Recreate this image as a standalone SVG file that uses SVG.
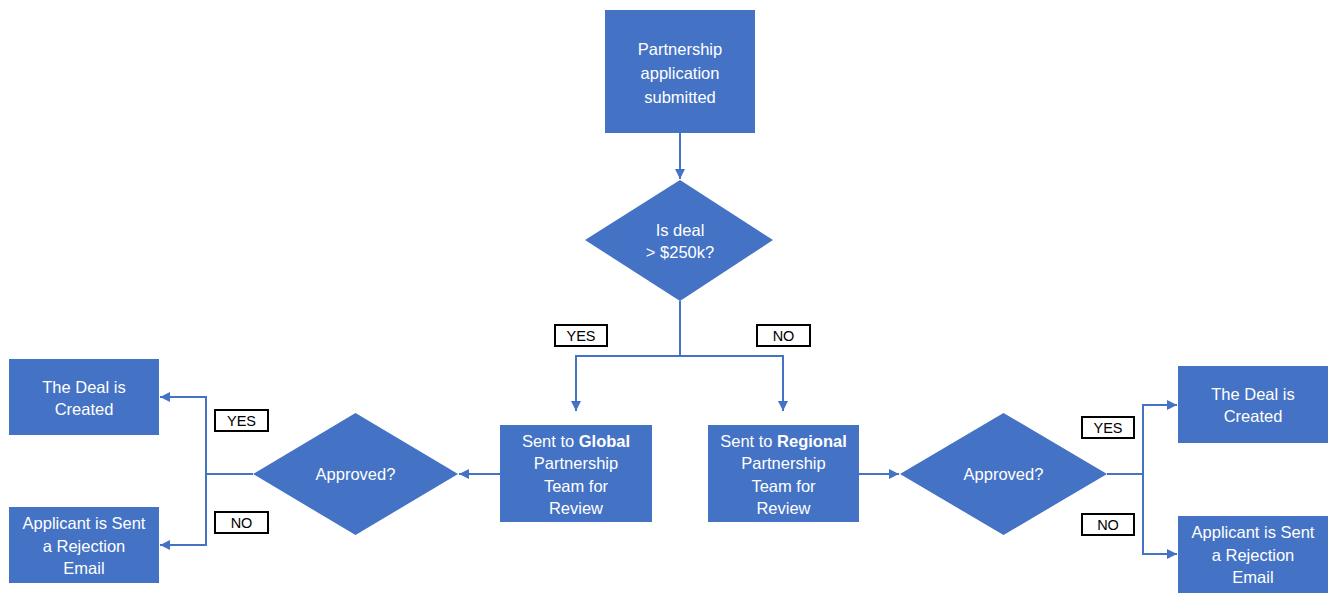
<svg xmlns="http://www.w3.org/2000/svg" width="1335" height="600" viewBox="0 0 1335 600">
<style>
.n{fill:#4472C4}
.t{font-family:"Liberation Sans",Arial,sans-serif;font-size:16.5px;fill:#fff;text-anchor:middle}
.c{stroke:#4472C4;stroke-width:2;fill:none}
.lb{fill:#fff;stroke:#000;stroke-width:2}
.lt{font-family:"Liberation Sans",Arial,sans-serif;font-size:14.5px;fill:#000;text-anchor:middle}
</style>
<defs>
<marker id="a" viewBox="0 0 10 10" refX="10" refY="5" markerWidth="5" markerHeight="5" orient="auto" markerUnits="strokeWidth">
<path d="M0,0 L10,5 L0,10 z" fill="#4472C4"/>
</marker>
</defs>
<rect width="1335" height="600" fill="#fff"/>
<g id="connectors">
<path class="c" d="M680,133 V179" marker-end="url(#a)"/>
<path class="c" d="M680,301 V356 H576 V411" marker-end="url(#a)"/>
<path class="c" d="M680,356 H783 V411" marker-end="url(#a)"/>
<path class="c" d="M500,474 H459" marker-end="url(#a)"/>
<path class="c" d="M253,474 H206 V397 H160" marker-end="url(#a)"/>
<path class="c" d="M206,474 V545 H160" marker-end="url(#a)"/>
<path class="c" d="M859,474 H899" marker-end="url(#a)"/>
<path class="c" d="M1107,474 H1143 V405 H1177" marker-end="url(#a)"/>
<path class="c" d="M1143,474 V554 H1177" marker-end="url(#a)"/>
</g>
<g id="labels">
<rect class="lb" x="555" y="325" width="52" height="21"/><text class="lt" x="581" y="341">YES</text>
<rect class="lb" x="757" y="325" width="53" height="21"/><text class="lt" x="783.5" y="341">NO</text>
<rect class="lb" x="215" y="410" width="53" height="21"/><text class="lt" x="241.5" y="426">YES</text>
<rect class="lb" x="215" y="512" width="53" height="21"/><text class="lt" x="241.5" y="528">NO</text>
<rect class="lb" x="1082" y="417" width="52" height="21"/><text class="lt" x="1108" y="433">YES</text>
<rect class="lb" x="1082" y="514" width="52" height="21"/><text class="lt" x="1108" y="530">NO</text>
</g>
<g id="start">
<rect class="n" x="605" y="10" width="150" height="123"/>
<text class="t" x="680" y="55">Partnership</text>
<text class="t" x="680" y="79">application</text>
<text class="t" x="680" y="103">submitted</text>
</g>
<g id="decision">
<polygon class="n" points="680,180 773,240 680,301 585,240"/>
<text class="t" x="680" y="236">Is deal</text>
<text class="t" x="680" y="258">&gt; $250k?</text>
</g>
<g id="global">
<rect class="n" x="500" y="425" width="152" height="97"/>
<text class="t" x="576" y="447">Sent to <tspan font-weight="bold">Global</tspan></text>
<text class="t" x="576" y="469">Partnership</text>
<text class="t" x="576" y="492">Team for</text>
<text class="t" x="576" y="514">Review</text>
</g>
<g id="regional">
<rect class="n" x="708" y="425" width="151" height="97"/>
<text class="t" x="783.5" y="447">Sent to <tspan font-weight="bold">Regional</tspan></text>
<text class="t" x="783.5" y="469">Partnership</text>
<text class="t" x="783.5" y="492">Team for</text>
<text class="t" x="783.5" y="514">Review</text>
</g>
<g id="approved-left">
<polygon class="n" points="355.5,413 458,474 355.5,535 253,474"/>
<text class="t" x="355.5" y="480">Approved?</text>
</g>
<g id="approved-right">
<polygon class="n" points="1003.5,413 1107,474 1003.5,535 900,474"/>
<text class="t" x="1003.5" y="480">Approved?</text>
</g>
<g id="deal-left">
<rect class="n" x="9" y="359" width="150" height="76"/>
<text class="t" x="84" y="393">The Deal is</text>
<text class="t" x="84" y="415">Created</text>
</g>
<g id="reject-left">
<rect class="n" x="9" y="507" width="150" height="76"/>
<text class="t" x="84" y="529">Applicant is Sent</text>
<text class="t" x="84" y="552">a Rejection</text>
<text class="t" x="84" y="574">Email</text>
</g>
<g id="deal-right">
<rect class="n" x="1178" y="366" width="150" height="77"/>
<text class="t" x="1253" y="400">The Deal is</text>
<text class="t" x="1253" y="422">Created</text>
</g>
<g id="reject-right">
<rect class="n" x="1178" y="516" width="150" height="77"/>
<text class="t" x="1253" y="538">Applicant is Sent</text>
<text class="t" x="1253" y="561">a Rejection</text>
<text class="t" x="1253" y="583">Email</text>
</g>
</svg>
